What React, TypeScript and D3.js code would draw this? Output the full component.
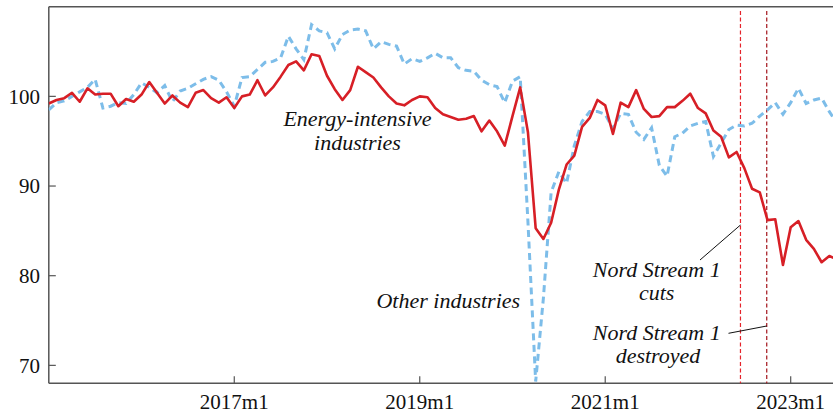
import React from "react";
import * as d3 from "d3";

// Monthly index, 0 = 2015m1
const energyIntensive: number[] = [
  99.2, 99.6, 99.8, 100.4, 99.4, 100.9, 100.2, 100.3, 100.3, 98.9, 99.7, 99.4,
  100.2, 101.6, 100.4, 99.2, 100.1, 99.3, 98.8, 100.4, 100.7, 99.8, 99.3, 99.9,
  98.7, 100.0, 100.2, 101.8, 100.1, 101.0, 102.2, 103.5, 103.9, 102.9, 104.7, 104.5,
  102.3, 100.8, 99.6, 100.7, 103.3, 102.7, 102.1, 101.0, 100.0, 99.2, 99.0, 99.6,
  100.0, 99.9, 98.7, 98.0, 97.7, 97.4, 97.5, 97.8, 96.1, 97.3, 96.1, 94.5,
  97.8, 101.0, 96.0, 85.3, 84.1, 85.9, 89.6, 92.4, 93.4, 96.6, 97.6, 99.6,
  99.0, 95.8, 99.3, 98.8, 100.7, 98.6, 97.7, 97.8, 98.8, 98.8, 99.5, 100.3,
  98.7, 98.1, 96.2, 95.5, 93.2, 93.8, 92.0, 89.7, 89.3, 86.2, 86.3, 81.2,
  85.4, 86.1, 84.0, 83.0, 81.5, 82.2, 81.8,
];

const otherIndustries: number[] = [
  98.5, 99.3, 99.5, 100.0, 100.5, 101.0, 101.9, 98.7, 98.9, 99.3, 99.2, 100.2,
  101.5, 101.0, 100.4, 101.2, 99.4, 100.6, 100.9, 101.4, 101.9, 102.2, 101.8, 100.5,
  98.9, 102.1, 102.2, 103.0, 103.8, 103.9, 104.3, 106.7, 105.3, 104.1, 108.0, 107.3,
  107.1, 105.3, 106.9, 107.4, 107.5, 107.3, 105.3, 106.1, 105.8, 105.6, 103.6, 104.2,
  103.9, 104.3, 104.8, 104.3, 104.3, 103.2, 102.9, 102.8, 101.8, 101.3, 101.1, 99.3,
  101.7, 102.2, 86.0, 68.2, 77.5, 89.3, 91.6, 90.3, 94.5, 97.2, 98.3, 98.3,
  98.0, 96.4, 98.1, 98.0, 96.0, 95.2, 96.5, 92.3, 91.1, 95.5, 95.9, 96.7,
  97.0, 97.2, 93.3, 94.8, 96.3, 96.8, 96.7, 97.0, 97.8, 98.5, 99.3, 98.0,
  99.3, 100.9, 99.2, 99.6, 99.8, 98.3, 97.0,
];

const xTickMonths: number[] = [24, 48, 72, 96];
const xTickLabels: string[] = ["2017m1", "2019m1", "2021m1", "2023m1"];
const yTickValues: number[] = [70, 80, 90, 100];

const eventMonths: number[] = [89.5, 92.9];
const eventColors: string[] = ["#e5232b", "#a3141b"];

const X0 = 48.8;
const X1 = 833.2;
const Y0 = 383.3;
const Y1 = 6.7;

export default function App() {
  const x = d3.scaleLinear().domain([0, 101.5]).range([X0, X1]);
  const y = d3.scaleLinear().domain([68, 110]).range([Y0, Y1]);

  const line = d3
    .line<number>()
    .x((_, i) => x(i))
    .y((d) => y(d))
    .curve(d3.curveLinear);

  const serif = "'Liberation Serif', 'Times New Roman', Times, 'DejaVu Serif', serif";
  const axisColor = "#555";

  return (
    <svg
      width={833}
      height={414}
      style={{ position: "absolute", left: 0, top: 0, background: "#fff" }}
      fontFamily={serif}
    >
      <defs>
        <clipPath id="plot">
          <rect x={X0} y={Y1} width={X1 - X0} height={Y0 - Y1} />
        </clipPath>
      </defs>

      {/* frame: top line, left axis, bottom axis */}
      <line x1={X0} x2={833} y1={Y1} y2={Y1} stroke={axisColor} strokeWidth={1.5} />
      <line x1={X0} x2={X0} y1={Y1} y2={Y0} stroke={axisColor} strokeWidth={1.5} />
      <line x1={X0} x2={833} y1={Y0} y2={Y0} stroke={axisColor} strokeWidth={1.5} />

      {/* y ticks */}
      {yTickValues.map((v) => (
        <g key={v}>
          <line x1={X0} x2={X0 + 7} y1={y(v)} y2={y(v)} stroke={axisColor} strokeWidth={1.2} />
          <text x={40} y={y(v)} dy="0.35em" textAnchor="end" fontSize={21} fill="#111">
            {v}
          </text>
        </g>
      ))}

      {/* x ticks */}
      {xTickMonths.map((m, i) => (
        <g key={m}>
          <line x1={x(m)} x2={x(m)} y1={Y0} y2={Y0 - 7} stroke={axisColor} strokeWidth={1.2} />
          <text x={x(m)} y={409} textAnchor="middle" fontSize={21} fill="#111">
            {xTickLabels[i]}
          </text>
        </g>
      ))}

      {/* event lines */}
      {eventMonths.map((m, i) => (
        <line
          key={m}
          x1={x(m)}
          x2={x(m)}
          y1={11}
          y2={Y0}
          stroke={eventColors[i]}
          strokeWidth={1.2}
          strokeDasharray="4,2.5"
        />
      ))}

      <g clipPath="url(#plot)">
        <path
          d={line(otherIndustries) || ""}
          fill="none"
          stroke="#7dbde9"
          strokeWidth={3}
          strokeDasharray="7,4.5"
        />
        <path
          d={line(energyIntensive) || ""}
          fill="none"
          stroke="#d71f26"
          strokeWidth={2.6}
          strokeLinejoin="round"
        />
      </g>

      {/* annotations */}
      <g fontStyle="italic" fontSize={22} fill="#111" textAnchor="middle">
        <text x={357.5} y={126}>
          <tspan x={357.5}>Energy-intensive</tspan>
          <tspan x={357.5} dy={23.5}>industries</tspan>
        </text>
        <text x={448.3} y={308}>Other industries</text>
        <text x={656.7} y={277}>
          <tspan x={656.7}>Nord Stream 1</tspan>
          <tspan x={656.7} dy={23}>cuts</tspan>
        </text>
        <text x={656.7} y={340}>
          <tspan x={656.7}>Nord Stream 1</tspan>
          <tspan x={658} dy={23}>destroyed</tspan>
        </text>
      </g>
      <line x1={700} y1={260} x2={x(eventMonths[0])} y2={225} stroke="#111" strokeWidth={1} />
      <line x1={728.5} y1={333.3} x2={x(eventMonths[1])} y2={326} stroke="#111" strokeWidth={1} />
    </svg>
  );
}
